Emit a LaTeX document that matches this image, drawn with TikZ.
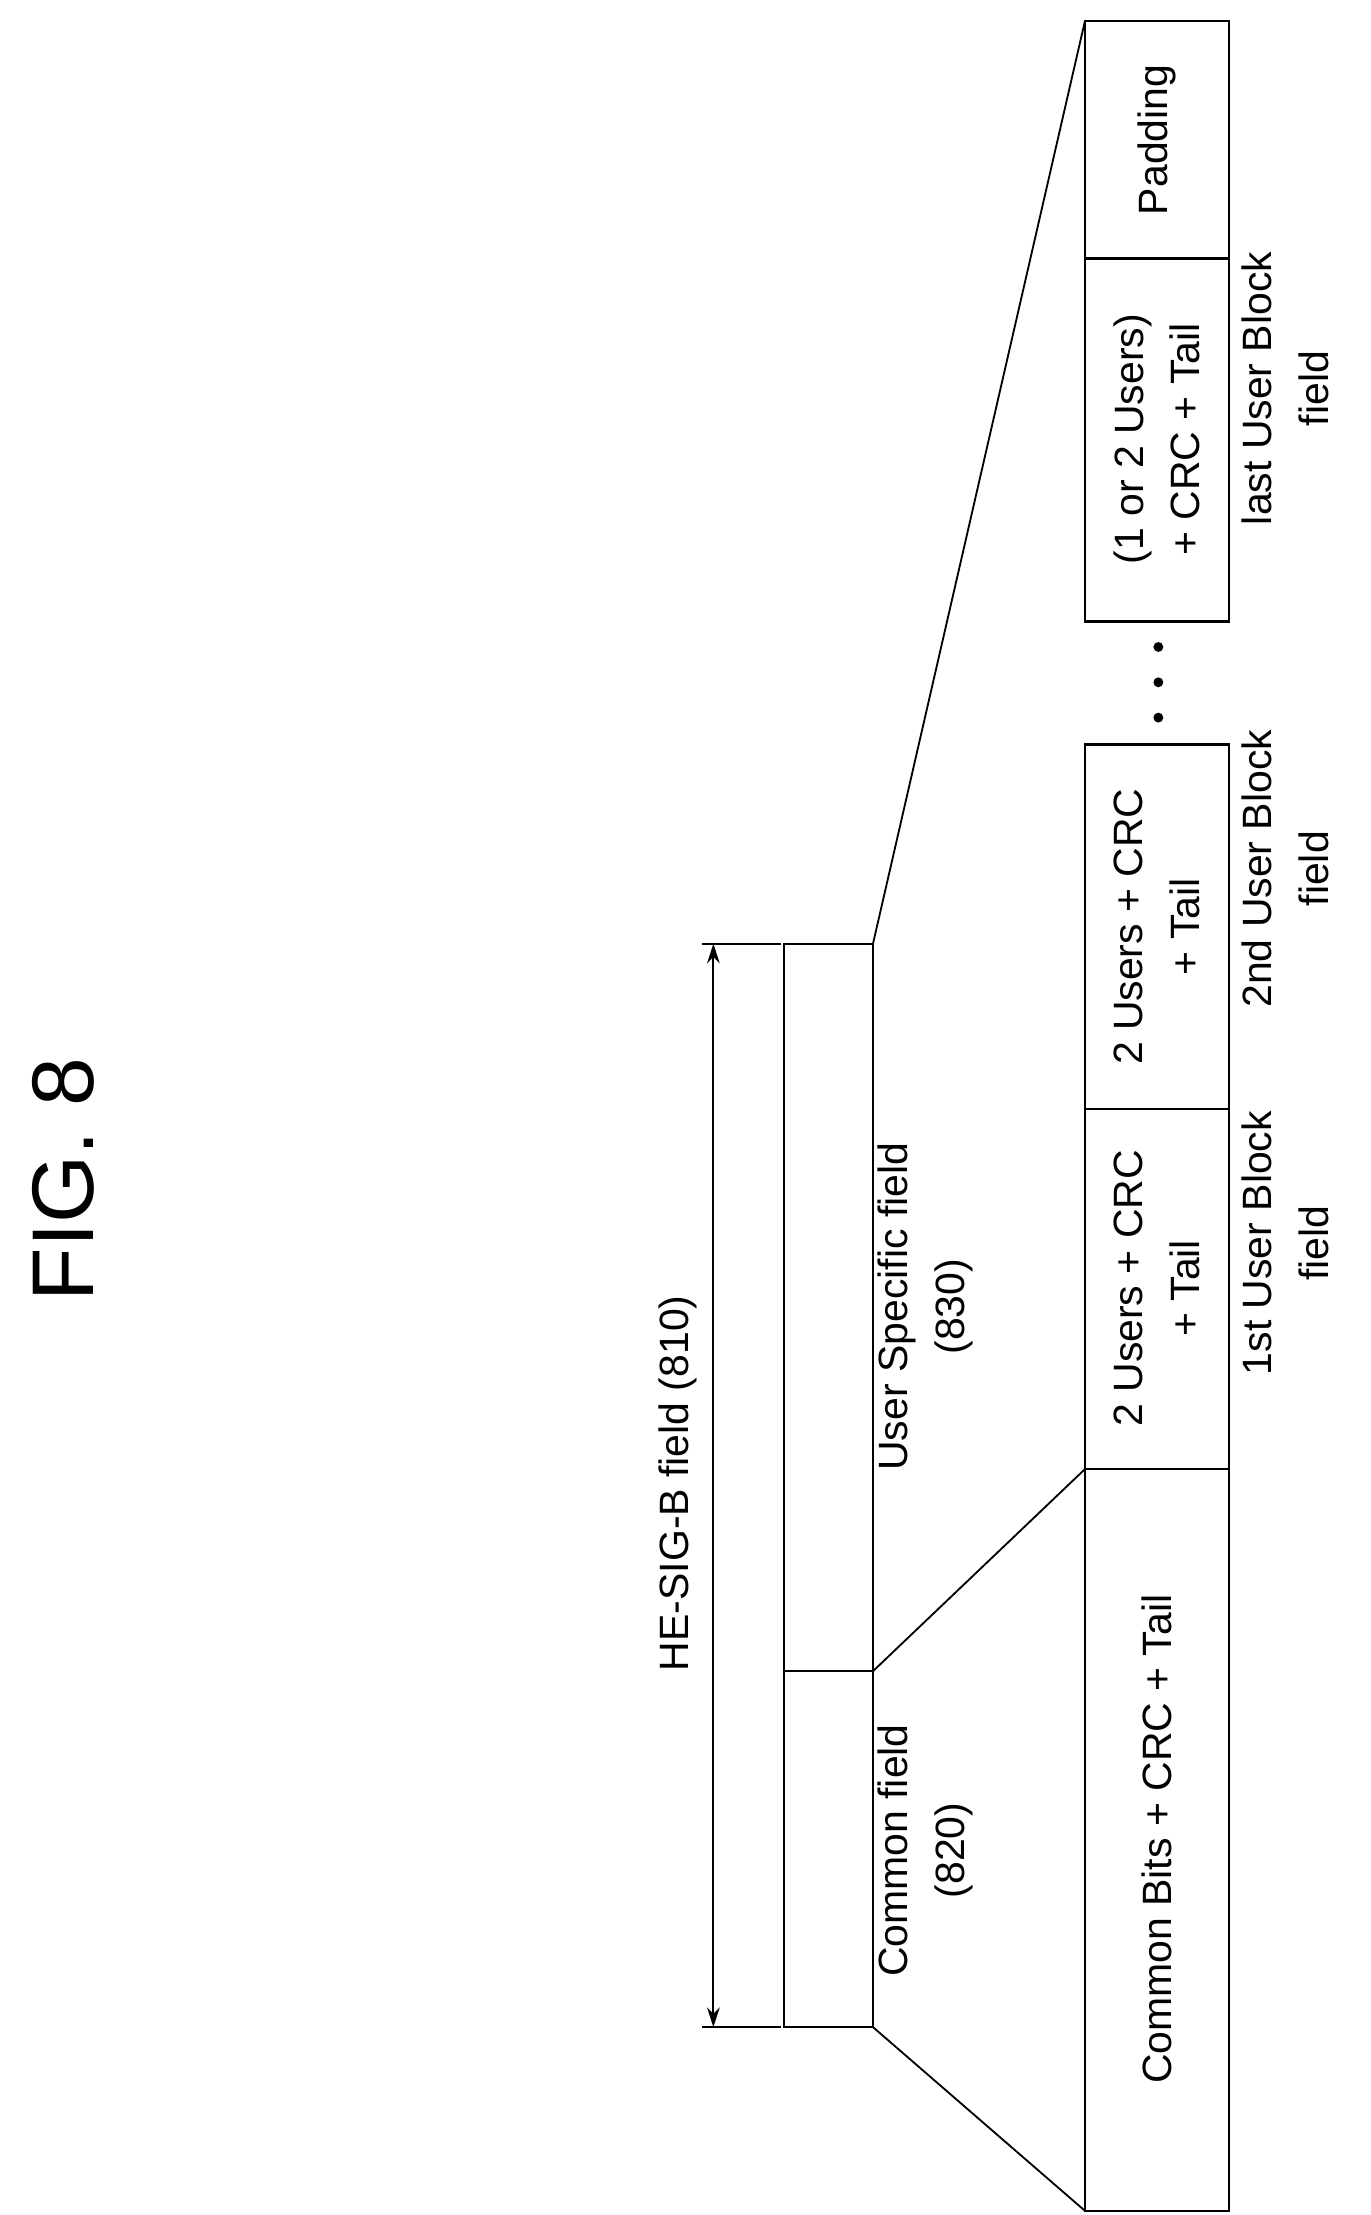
\documentclass[tikz,border=0pt]{standalone}
\usepackage{fontspec}
\setmainfont{Liberation Sans}
\usetikzlibrary{arrows.meta}
\begin{document}
\begin{tikzpicture}[x=1pt,y=-1pt,line width=1.6pt,
  lbl/.style={rotate=90,align=center,font=\fontsize{29}{40}\selectfont},
  box/.style={draw,line width=1.6pt}]
\useasboundingbox (0,0) rectangle (970,1568);
\node[rotate=90,font=\fontsize{62}{70}\selectfont] (fig) at (45,835) {FIG. 8};
% top bar
\coordinate (t1) at (555,668); \coordinate (t2) at (618,1183); \coordinate (t3) at (618,1435);
\draw (555,668) rectangle (618,1435);
\draw (555,1183) -- (618,1183);
\node[lbl] (cf) at (655,1310) {Common field\\(820)};
\node[lbl] (usf) at (655,925) {User Specific field\\(830)};
% dimension
\coordinate (da) at (505,668); \coordinate (db) at (505,1435);
\draw (497,668) -- (553,668); \draw (497,1435) -- (553,1435);
\draw[{Stealth[length=14pt,width=9pt]}-{Stealth[length=14pt,width=9pt]},line width=1.3pt] (da) -- (db);
\node[lbl] (hs) at (480,1050) {HE-SIG-B field (810)};
% lower boxes
\draw (768,1040) rectangle (870,1565);
\draw (768,785) rectangle (870,1040);
\draw (768,527) rectangle (870,785);
\draw (768,183) rectangle (870,440);
\draw (768,15) rectangle (870,183);
\node[lbl] (cb) at (819,1302) {Common Bits + CRC + Tail};
\node[lbl] (u1) at (819,912) {2 Users + CRC\\+ Tail};
\node[lbl] (u2) at (819,656) {2 Users + CRC\\+ Tail};
\node[lbl] (ul) at (819,311) {(1 or 2 Users)\\+ CRC + Tail};
\node[lbl] (pd) at (819,99) {Padding};
\node[lbl] (l1) at (910,880) {1st User Block\\field};
\node[lbl] (l2) at (910,615) {2nd User Block\\field};
\node[lbl] (l3) at (910,275) {last User Block\\field};
\foreach \yy in {458,483,508} \fill (820,\yy) circle (3.5pt);
% zoom lines
\draw[line width=1.3pt] (618,1435) -- (768,1565);
\draw[line width=1.3pt] (618,1183) -- (768,1040);
\draw[line width=1.3pt] (618,668) -- (768,15);
\end{tikzpicture}
\end{document}
